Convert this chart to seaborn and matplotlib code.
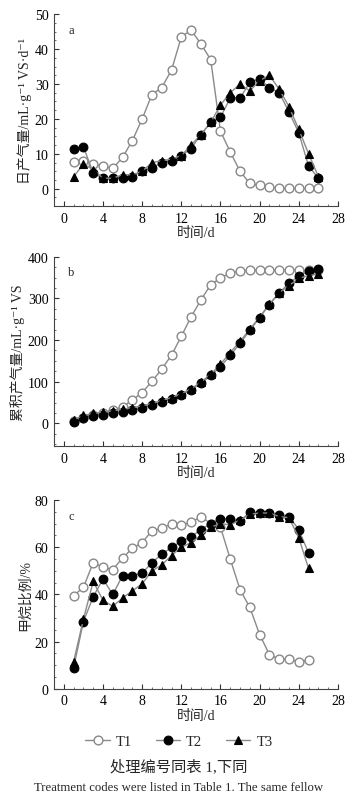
import matplotlib
matplotlib.use("Agg")
import matplotlib.pyplot as plt
import numpy as np
import seaborn as sns
from matplotlib.lines import Line2D
from matplotlib.ticker import MultipleLocator

# Days
days_a = list(range(1, 27))
days_c = list(range(1, 26))

# a: daily biogas production (mL/g VS/d)
t1_daily = [7.7, 8.0, 7.0, 6.5, 5.8, 9.0, 13.8, 20.0, 27.0, 29.0, 34.0, 43.5, 45.5,
            41.5, 37.0, 16.5, 10.5, 5.0, 1.5, 1.0, 0.5, 0.2, 0.1, 0.1, 0.1, 0.1]
t2_daily = [11.5, 12.0, 4.5, 3.0, 3.2, 3.0, 3.5, 5.0, 6.0, 7.5, 8.0, 9.5, 11.5,
            15.5, 19.0, 20.5, 26.0, 26.0, 30.5, 31.5, 29.0, 27.5, 22.0, 16.0, 6.5, 3.0]
t3_daily = [3.5, 7.0, 5.5, 3.0, 3.0, 4.0, 4.0, 5.0, 7.5, 8.0, 8.5, 9.5, 12.5,
            15.5, 19.0, 24.0, 27.5, 30.0, 28.0, 31.0, 32.5, 28.5, 23.5, 17.0, 10.0, 3.5]

# b: cumulative biogas production (mL/g VS)
t1_cum = [5, 13, 20, 25, 32, 40, 56, 74, 101, 130, 164, 209, 256,
          296, 333, 349, 361, 366, 368, 368, 368, 368, 368, 368, 368, 368]
t2_cum = [3, 13, 18, 20, 24, 27, 31, 37, 44, 51, 59, 68, 81,
          96, 115, 136, 163, 192, 223, 254, 285, 313, 337, 353, 366, 370]
t3_cum = [8, 19, 24, 27, 30, 34, 38, 42, 48, 55, 62, 71, 83,
          99, 118, 142, 170, 197, 226, 256, 286, 314, 331, 348, 355, 358]

# c: methane content (%)
t1_ch4 = [39.5, 43.0, 53.5, 51.5, 50.5, 55.5, 59.5, 62.0, 67.0, 68.0, 70.0, 69.5, 70.5,
          73.0, 70.0, 68.5, 55.0, 42.0, 34.5, 23.0, 14.5, 12.5, 12.5, 11.5, 12.0]
t2_ch4 = [9.0, 28.5, 39.0, 46.5, 40.0, 48.0, 48.0, 49.0, 53.5, 57.0, 60.0, 62.5, 64.5,
          67.5, 70.0, 72.0, 72.0, 71.0, 75.0, 74.5, 74.5, 73.5, 73.0, 67.5, 57.5]
t3_ch4 = [11.5, 29.5, 45.5, 37.5, 35.0, 38.5, 41.5, 44.5, 50.0, 52.5, 56.5, 60.0, 62.0,
          65.0, 68.5, 70.0, 69.5, 71.5, 74.0, 74.5, 74.5, 73.0, 72.5, 64.0, 51.0]

treatments = ["T1", "T2", "T3"]

sns.set_theme(style="ticks")
plt.rcParams["font.family"] = ["Liberation Serif", "Noto Sans CJK SC", "DejaVu Serif"]
plt.rcParams["axes.unicode_minus"] = False

styles = {
    "T1": dict(marker="o", markerfacecolor="white", markeredgecolor="#888888", markeredgewidth=1.0),
    "T2": dict(marker="o", markerfacecolor="black", markeredgecolor="black", markeredgewidth=0.8),
    "T3": dict(marker="^", markerfacecolor="black", markeredgecolor="black", markeredgewidth=0.8),
}
line_color = "#8a8a8a"

fig = plt.figure(figsize=(3.58, 8.03), dpi=100)

panels = [
    ("a", [0.151, 0.742, 0.793, 0.239], days_a, [t1_daily, t2_daily, t3_daily],
     (-5, 50), 10, "日产气量/mL·g⁻¹ VS·d⁻¹"),
    ("b", [0.151, 0.443, 0.793, 0.236], days_a, [t1_cum, t2_cum, t3_cum],
     (-55, 400), 100, "累积产气量/mL·g⁻¹ VS"),
    ("c", [0.151, 0.141, 0.793, 0.235], days_c, [t1_ch4, t2_ch4, t3_ch4],
     (0, 80), 20, "甲烷比例/%"),
]

for tag, pos, days, series, ylim, ystep, ylabel in panels:
    ax = fig.add_axes(pos)
    for name, vals in zip(treatments, series):
        sns.lineplot(x=days, y=vals, ax=ax, color=line_color, linewidth=1.0,
                     markersize=6.3, **styles[name])
    ax.set_xlim(-1, 28)
    ax.set_ylim(*ylim)
    ax.xaxis.set_major_locator(MultipleLocator(4))
    ax.xaxis.set_minor_locator(MultipleLocator(1))
    ax.yaxis.set_major_locator(MultipleLocator(ystep))
    ax.yaxis.set_minor_locator(MultipleLocator(ystep / 4))
    ax.tick_params(which="major", direction="in", length=3.5, width=0.8,
                   labelsize=10, colors="#333333", labelcolor="black", pad=4)
    ax.tick_params(which="minor", direction="in", length=1.5, width=0.6, colors="#555555")
    for side in ("top", "right"):
        ax.spines[side].set_visible(False)
    for side in ("left", "bottom"):
        ax.spines[side].set_color("#444444")
        ax.spines[side].set_linewidth(0.8)
    ax.set_xlabel("时间/d", fontsize=10, labelpad=1)
    ax.set_ylabel(ylabel, fontsize=10, labelpad=2)
    ax.text(0.05, 0.95, tag, transform=ax.transAxes, fontsize=9, va="top", ha="left")

handles = [Line2D([], [], color=line_color, linewidth=1.0, markersize=6.3, **styles[n])
           for n in treatments]
fig.legend(handles, treatments, loc="center", bbox_to_anchor=(0.5, 0.075), ncol=3,
           frameon=False, fontsize=10.5, handlelength=1.7, columnspacing=1.6, handletextpad=0.4)
fig.text(0.5, 0.045, "处理编号同表 1,下同", ha="center", va="center", fontsize=11)
fig.text(0.5, 0.019, "Treatment codes were listed in Table 1. The same fellow",
         ha="center", va="center", fontsize=9.2)

fig.savefig("out.png", dpi=100)
